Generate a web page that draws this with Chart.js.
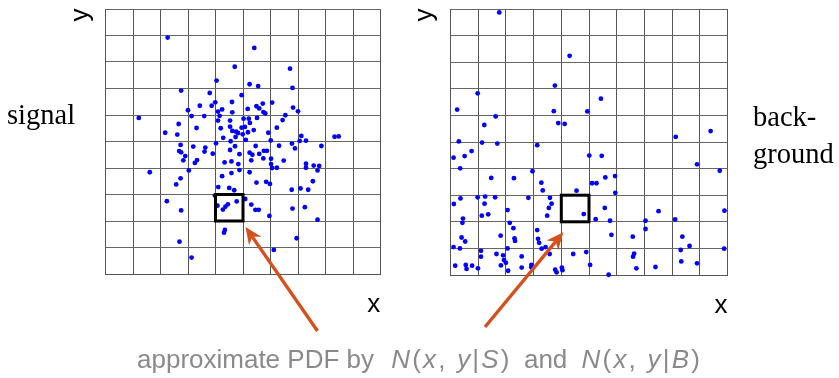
<!DOCTYPE html>
<html>
<head>
<meta charset="utf-8">
<script src="https://cdn.jsdelivr.net/npm/chart.js@4.4.0/dist/chart.umd.min.js"></script>
<style>
  html, body { margin:0; padding:0; background:#fff; }
  #wrap { position:relative; width:839px; height:378px; overflow:hidden; background:#fff; }
  canvas { position:absolute; left:0; top:0; }
  .lbl { position:absolute; white-space:nowrap; color:#000; }
  .serif { font-family:"Liberation Serif","Times New Roman",serif; font-size:28.5px; line-height:28.5px; }
  .sans { font-family:"Liberation Sans",Arial,sans-serif; font-size:26px; line-height:26px; }
  .cap { color:#8a8a8a; }
  .math { letter-spacing:2.2px; }
  .math i { font-style:italic; }
</style>
</head>
<body>
<div id="wrap">
  <canvas id="c1" width="839" height="378"></canvas>
  <canvas id="c2" width="839" height="378"></canvas>
  <div class="lbl serif" style="left:7px; top:100.5px;">signal</div>
  <div class="lbl serif" style="left:753px; top:103px;">back-</div>
  <div class="lbl serif" style="left:753px; top:140px;">ground</div>
  <div class="lbl sans" style="left:64px; top:2px; width:30px; text-align:center; transform:rotate(-90deg);">y</div>
  <div class="lbl sans" style="left:407.5px; top:1.5px; width:30px; text-align:center; transform:rotate(-90deg);">y</div>
  <div class="lbl sans" style="left:367.3px; top:290.3px;">x</div>
  <div class="lbl sans" style="left:714.6px; top:291.3px;">x</div>
  <div class="lbl sans cap" style="left:137px; top:346.3px;">approximate PDF by <span class="math" style="margin-left:10px;"><i>N</i>(<i>x</i>, <i>y</i>|<i>S</i>)</span> <span style="margin-left:5px;">and</span> <span class="math" style="margin-left:7px;"><i>N</i>(<i>x</i>, <i>y</i>|<i>B</i>)</span></div>
</div>
<script>
// ---- data (x, y in grid units 0..10) ----
const gridTicks = [0,1,2,3,4,5,6,7,8,9,10];
const highlightCell = [4, 5, 2, 3]; // xFrom, xTo, yFrom, yTo

const signalPoints = [
 [2.26,8.92],[5.41,8.53],[4.70,7.82],[6.71,7.75],[4.04,7.30],[5.24,7.16],[5.55,7.09],[2.75,6.92],[6.80,7.02],[3.79,6.83],
 [4.95,6.75],[4.60,6.49],[3.99,6.48],[3.86,6.35],[3.43,6.35],[3.00,6.18],[4.09,6.13],[4.24,6.21],[4.61,6.10],[5.17,6.23],
 [5.49,6.33],[5.72,6.43],[6.06,6.47],[5.59,6.25],[5.74,6.11],[5.81,6.06],[6.82,6.28],[7.00,6.14],[1.21,5.89],[3.13,5.96],
 [3.59,5.96],[4.15,5.97],[4.09,5.79],[4.53,5.79],[5.02,5.86],[5.21,5.86],[5.51,5.89],[5.25,5.70],[6.54,5.99],[6.44,5.81],
 [2.66,5.66],[3.31,5.51],[4.19,5.50],[4.53,5.56],[4.61,5.40],[4.75,5.37],[4.95,5.52],[5.07,5.55],[5.39,5.43],[4.82,5.32],
 [5.18,5.35],[6.23,5.52],[5.92,5.33],[2.17,5.33],[2.61,5.26],[4.28,5.14],[4.73,5.17],[4.99,5.27],[5.10,5.06],[4.55,5.01],
 [4.02,4.93],[6.01,5.04],[7.12,5.21],[7.06,5.02],[6.78,4.92],[7.29,5.03],[8.33,5.18],[8.48,5.19],[7.85,4.83],[2.73,4.87],
 [3.19,4.81],[3.63,4.77],[4.71,4.82],[5.46,4.83],[6.31,4.84],[6.89,4.74],[2.68,4.64],[3.60,4.62],[2.75,4.59],[3.90,4.54],
 [4.53,4.68],[4.87,4.52],[5.24,4.58],[5.34,4.50],[5.59,4.53],[5.76,4.65],[5.87,4.65],[5.74,4.36],[6.02,4.35],[5.30,4.29],
 [2.90,4.45],[2.83,4.29],[3.33,4.30],[3.25,4.19],[4.33,4.21],[4.58,4.25],[4.83,4.15],[6.02,4.15],[6.06,4.00],[6.23,4.01],
 [6.48,4.28],[7.29,4.16],[7.57,4.09],[7.77,4.08],[7.29,4.01],[7.71,3.91],[1.61,3.84],[3.03,3.91],[4.87,3.92],[4.58,3.81],
 [5.24,3.84],[4.24,3.69],[2.73,3.61],[2.57,3.38],[5.49,3.45],[5.84,3.48],[5.98,3.40],[7.54,3.50],[4.10,3.28],[4.50,3.25],
 [4.68,3.16],[6.77,3.18],[7.09,3.23],[7.37,3.18],[3.98,2.96],[5.08,2.83],[2.23,2.75],[4.77,2.74],[4.45,2.63],[4.36,2.54],
 [4.07,2.58],[4.27,2.43],[5.30,2.62],[5.45,2.42],[5.57,2.42],[2.75,2.40],[5.96,2.19],[6.80,2.47],[7.25,2.52],[7.71,2.05],
 [4.34,1.66],[4.31,1.56],[2.69,1.22],[6.95,1.35],[6.12,0.91],[3.13,0.62]
];

const backgroundPoints = [
 [1.76,9.87],[4.30,8.24],[3.77,7.12],[0.98,6.83],[5.43,6.63],[0.24,6.22],[3.73,6.16],[4.94,6.15],[1.63,5.96],[1.22,5.64],
 [3.89,5.71],[4.12,5.68],[8.13,5.19],[9.39,5.41],[0.30,5.02],[1.14,4.98],[1.69,4.94],[3.13,4.88],[0.76,4.66],[0.51,4.47],
 [0.11,4.41],[5.01,4.49],[5.46,4.48],[0.35,4.01],[8.90,4.16],[9.72,3.92],[2.96,3.90],[1.47,3.65],[2.29,3.64],[5.59,3.67],
 [5.94,3.72],[3.28,3.47],[5.11,3.45],[5.27,3.45],[3.33,3.18],[4.55,3.17],[5.95,3.09],[0.36,2.88],[0.98,2.92],[1.25,2.95],
 [1.61,2.92],[2.81,2.90],[3.59,2.90],[0.12,2.67],[1.23,2.68],[3.65,2.68],[3.55,2.52],[5.57,2.52],[2.06,2.44],[1.36,2.28],
 [1.13,2.23],[3.49,2.23],[4.81,2.29],[7.51,2.40],[9.89,2.42],[0.45,2.12],[0.43,1.96],[5.24,2.10],[5.76,2.04],[7.04,2.04],
 [8.11,2.09],[2.14,1.96],[2.27,1.76],[7.04,1.73],[3.13,1.69],[0.40,1.41],[0.53,1.26],[1.81,1.48],[2.31,1.38],[2.33,1.28],
 [3.16,1.36],[3.20,1.21],[5.81,1.51],[6.58,1.44],[8.37,1.44],[0.11,1.05],[0.34,1.00],[2.06,1.00],[3.29,0.99],[3.43,1.05],
 [8.63,1.09],[9.88,0.99],[1.10,0.91],[1.10,0.69],[1.66,0.79],[1.90,0.74],[1.93,0.56],[2.57,0.70],[3.58,0.79],[4.43,0.79],
 [4.90,0.86],[6.63,0.80],[6.59,0.69],[8.31,0.94],[8.33,0.51],[0.17,0.35],[0.55,0.38],[0.78,0.35],[0.99,0.25],[0.58,0.23],
 [1.82,0.36],[2.00,0.46],[2.08,0.16],[2.57,0.28],[2.92,0.38],[2.92,0.29],[3.78,0.20],[3.83,0.10],[4.02,0.28],[4.04,0.18],
 [5.04,0.38],[5.71,0.01],[6.71,0.25],[7.40,0.30],[8.90,0.44]
];

// ---- drawing helpers ----
const ARROW = '#d4501c';
function drawArrow(ctx, x0, y0, x1, y1) {
  const ang = Math.atan2(y1 - y0, x1 - x0);
  const L = 17, W = 7.5, notch = 5;
  ctx.save();
  ctx.strokeStyle = ARROW; ctx.fillStyle = ARROW;
  ctx.lineWidth = 3.4; ctx.lineCap = 'butt';
  ctx.beginPath();
  ctx.moveTo(x0, y0);
  ctx.lineTo(x1 - Math.cos(ang) * (L - notch), y1 - Math.sin(ang) * (L - notch));
  ctx.stroke();
  ctx.translate(x1, y1); ctx.rotate(ang);
  ctx.beginPath();
  ctx.moveTo(0, 0);
  ctx.lineTo(-L, -W);
  ctx.lineTo(-L + notch, 0);
  ctx.lineTo(-L, W);
  ctx.closePath();
  ctx.fill();
  ctx.restore();
}

function makePlugin(arrowFn) {
  return {
    id: 'extras',
    afterDatasetsDraw(chart) {
      const {ctx, scales} = chart;
      const xa = scales.x.getPixelForValue(highlightCell[0]);
      const xb = scales.x.getPixelForValue(highlightCell[1]);
      const ya = scales.y.getPixelForValue(highlightCell[2]);
      const yb = scales.y.getPixelForValue(highlightCell[3]);
      ctx.save();
      ctx.strokeStyle = '#000'; ctx.lineWidth = 3;
      ctx.strokeRect(xa, yb, xb - xa, ya - yb);
      ctx.restore();
      arrowFn(ctx, xa, xb, ya, yb);
    }
  };
}

function makeChart(id, points, pad, arrowFn) {
  return new Chart(document.getElementById(id), {
    type: 'scatter',
    data: { datasets: [{
      data: points.map(p => ({x: p[0], y: p[1]})),
      pointRadius: 2.4, pointHoverRadius: 2.4,
      pointBackgroundColor: '#0000ff', pointBorderWidth: 0,
      clip: false
    }]},
    options: {
      responsive: false, animation: false, events: [],
      layout: { padding: pad },
      plugins: { legend: {display:false}, tooltip: {enabled:false} },
      scales: {
        x: { type:'linear', min:0, max:10,
             afterBuildTicks: s => { s.ticks = gridTicks.map(v => ({value:v})); },
             ticks: { display:false },
             grid: { color:'#555', lineWidth:1, drawTicks:false },
             border: { color:'#555', width:1 } },
        y: { type:'linear', min:0, max:10,
             afterBuildTicks: s => { s.ticks = gridTicks.map(v => ({value:v})); },
             ticks: { display:false },
             grid: { color:'#666', lineWidth:1, drawTicks:false },
             border: { color:'#555', width:1 } }
      }
    },
    plugins: [makePlugin(arrowFn)]
  });
}

makeChart('c1', signalPoints, {left:105.5, top:9, right:458.5, bottom:104},
  (ctx, xa, xb, ya, yb) => drawArrow(ctx, 317.5, 331, xb + 2.5, ya + 6));
makeChart('c2', backgroundPoints, {left:450.5, top:9, right:111.5, bottom:103},
  (ctx, xa, xb, ya, yb) => drawArrow(ctx, 485, 327, xa + 2, ya + 10.5));
</script>
</body>
</html>
